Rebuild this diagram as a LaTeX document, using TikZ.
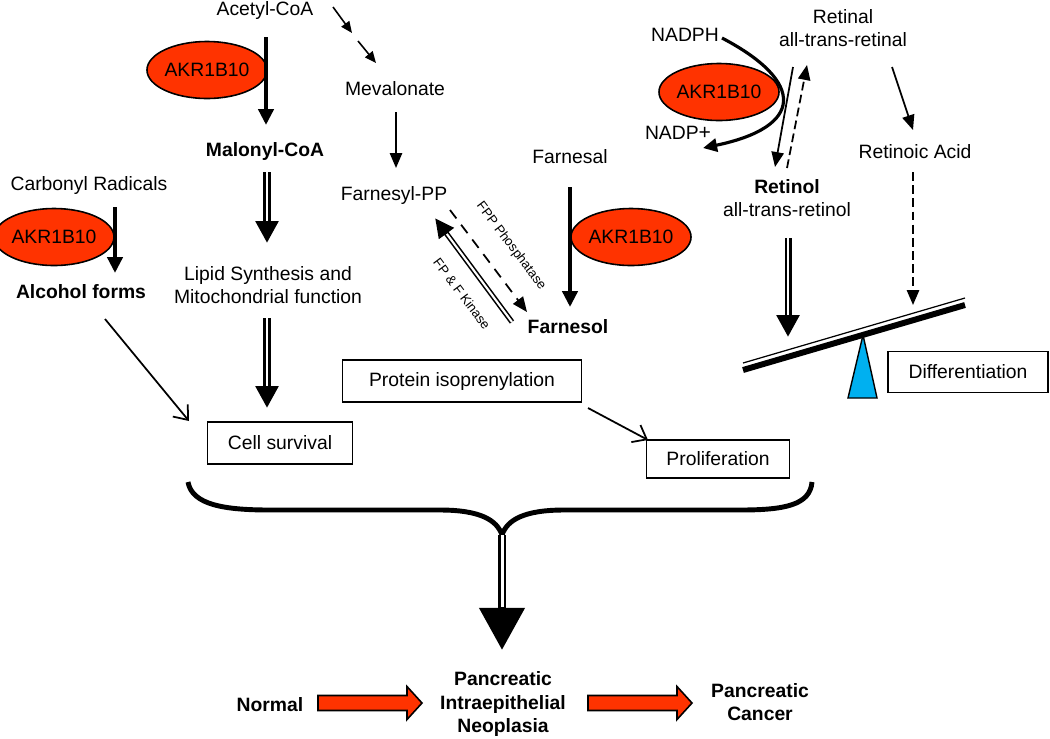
\documentclass[tikz,border=0pt]{standalone}
\usepackage{fontspec}
\setmainfont{Liberation Sans}
\usetikzlibrary{calc,arrows.meta,shapes.geometric}
\definecolor{akrred}{RGB}{255,51,0}
\definecolor{pivotblue}{RGB}{0,176,240}
\newcommand{\progarrow}[1]{%
    % #1 = tail point of the block arrow
    \draw[line width=0.9pt,fill=akrred,shift={#1}]
        (0,-7.5) -- (89,-7.5) -- (89,-16.5) -- (104,0) -- (89,16.5)
        -- (89,7.5) -- (0,7.5) -- cycle;
}

\begin{document}
\begin{tikzpicture}[x=0.02cm,y=-0.02cm,
    txt/.style={font=\fontsize{11}{13.5}\selectfont,inner sep=0pt,align=center},
    small/.style={font=\fontsize{7.5}{9}\selectfont,inner sep=0pt,rotate=-53},
    enzyme/.style={ellipse,draw,line width=0.9pt,fill=akrred,minimum width=2.1cm,
        minimum height=1.14cm,inner sep=0pt,font=\fontsize{11}{13.5}\selectfont},
    stage/.style={draw,line width=1.1pt,inner sep=0pt,font=\fontsize{11}{13.5}\selectfont},
    flow/.style={line width=1pt,-{Triangle[length=8.5pt,width=7pt]}},
    flowdash/.style={flow,dash pattern=on 5pt off 2.5pt},
    strong/.style={line width=2.6pt,-{Triangle[length=9pt,width=8.5pt]}},
    feed/.style={line width=1pt,-{Straight Barb[length=7pt,width=11pt]}},
    dbl/.style={line width=4pt,-{Triangle[length=12.5pt,width=12.5pt]},
        postaction={draw=white,line width=1.6pt,shorten >=12.8pt,arrows=-}},
    bigdbl/.style={line width=4.5pt,-{Triangle[length=24pt,width=25pt]},
        postaction={draw=white,line width=1.7pt,shorten >=24.3pt,arrows=-}},
]
\useasboundingbox (0,0) rectangle (1050,738);

% Metabolites
\node[txt] (acetyl) at (265,10) {Acetyl-CoA};
\node[txt] (meval) at (395,89) {Mevalonate};
\node[txt,font=\fontsize{11}{13.5}\selectfont\bfseries] (malonyl) at (265,151) {Malonyl-CoA};
\node[txt] (carbonyl) at (89,185) {Carbonyl Radicals};
\node[txt,font=\fontsize{11}{13.5}\selectfont\bfseries] (alcohol) at (81,292) {Alcohol forms};
\node[txt] (lipid) at (268,285) {Lipid Synthesis and\\Mitochondrial function};
\node[txt] (farnesyl) at (394,195) {Farnesyl-PP};
\node[txt] (farnesal) at (570,157) {Farnesal};
\node[txt,font=\fontsize{11}{13.5}\selectfont\bfseries] (farnesol) at (568,327) {Farnesol};
\node[txt] (nadph) at (685,35) {NADPH};
\node[txt] (nadp) at (678,133) {NADP{\large+}};
\node[txt] (retinal) at (843,28) {Retinal\\all-trans-retinal};
\node[txt] (retinol) at (787,198) {\textbf{Retinol}\\all-trans-retinol};
\node[txt] (retinoic) at (915,152) {Retinoic Acid};

% Enzymes
\node[enzyme] (akrA) at (207,70) {AKR1B10};
\node[enzyme] (akrB) at (54,237) {AKR1B10};
\node[enzyme] (akrC) at (631,237) {AKR1B10};
\node[enzyme] (akrD) at (719,92) {AKR1B10};

% Outcomes
\node[stage,minimum width=2.9cm,minimum height=0.84cm] (survival) at (280,443) {Cell survival};
\node[stage,minimum width=4.78cm,minimum height=0.84cm] (protein) at (462,381) {Protein isoprenylation};
\node[stage,minimum width=2.86cm,minimum height=0.76cm] (prolif) at (718,459) {Proliferation};
\node[stage,minimum width=3.2cm,minimum height=0.82cm] (diff) at (968,372) {Differentiation};

% Left pathways
\draw[strong] ($(acetyl)+(1,27)$) -- ($(malonyl)+(1,-26)$);
\draw[flow,line width=0.9pt,-{Triangle[length=6.5pt,width=5.5pt]}] ($(acetyl)+(68,-3)$) -- ($(acetyl)+(87,23)$);
\draw[flow,line width=0.9pt,-{Triangle[length=6.5pt,width=5.5pt]}] ($(meval)+(-37,-48)$) -- ($(meval)+(-19,-26)$);
\draw[flow] ($(meval)+(1,23)$) -- ($(farnesyl)+(2,-27)$);
\draw[dbl] ($(malonyl)+(2,21)$) -- ($(lipid)+(-1,-42)$);
\draw[dbl] ($(lipid)+(-1,33)$) -- ($(survival)+(-13,-35)$);
\draw[strong] ($(carbonyl)+(26,22)$) -- ($(alcohol)+(34,-19)$);
\draw[feed] ($(alcohol)+(24,27)$) -- ($(survival)+(-91,-22)$);

% Farnesol cycle
\node[small] (fppase) at (511,246) {FPP Phosphatase};
\node[small] (kinase) at (462,294) {FP \& F Kinase};
\draw[flow,dash pattern=on 6pt off 4.5pt] ($(farnesyl)+(56,15)$) -- ($(farnesol)+(-41,-15)$);
\draw[line width=3pt,-{Triangle[length=11pt,width=10pt]},
    postaction={draw=white,line width=1.2pt,shorten >=11.3pt,arrows=-}]
    ($(farnesol)+(-56,-5)$) -- ($(farnesyl)+(41,23)$);
\draw[strong] ($(farnesal)+(0,30)$) -- ($(farnesol)+(2,-20)$);
\draw[feed] ($(protein)+(126,27)$) -- ($(prolif)+(-70,-19)$);

% Retinoid branch
\draw[line width=1.8pt,-{Triangle[length=8pt,width=7.5pt]}]
    ($(nadph)+(37,3)$) .. controls (806,82) and (804,127) .. ($(nadp)+(25,15)$);
\draw[flow] ($(retinal)+(-50,39)$) -- ($(retinol)+(-12,-31)$);
\draw[flowdash] ($(retinol)+(0,-30)$) -- ($(retinal)+(-36,37)$);
\draw[flow] ($(retinal)+(49,39)$) -- ($(retinoic)+(-2,-22)$);
\coordinate (beamL) at (788,337);
\coordinate (beamR) at (913,305);
\draw[flowdash] ($(retinoic)+(-2,20)$) -- (beamR);
\draw[dbl] ($(retinol)+(1,40)$) -- (beamL);

% Balance
\draw[line width=3.4pt] (743,370) -- (965,305);
\draw[line width=0.7pt] (743,363) -- (965,298);
\draw[line width=0.8pt,fill=pivotblue] (863,335) -- (877,398) -- (848,398) -- cycle;

% Convergence brace
\coordinate (cusp) at (502,535);
\draw[line width=2.8pt]
    (188,482) .. controls (192,505) and (225,510) .. (270,510) -- (440,510)
    .. controls (480,510) and (497,520) .. (cusp)
    .. controls (507,520) and (524,510) .. (564,510) -- (740,510)
    .. controls (785,510) and (810,505) .. (812,482);

% Progression
\node[txt,font=\fontsize{11}{13.5}\selectfont\bfseries] (normal) at (270,705) {Normal};
\node[txt,font=\fontsize{11}{13.5}\selectfont\bfseries] (panin) at (503,704) {Pancreatic\\Intraepithelial\\Neoplasia};
\node[txt,font=\fontsize{11}{13.5}\selectfont\bfseries] (cancer) at (760,702) {Pancreatic\\Cancer};
\draw[bigdbl] (cusp) -- ($(panin)+(-1,-54)$);
\progarrow{($(normal)+(48,-2)$)}
\progarrow{($(panin)+(85,-1)$)}

\end{tikzpicture}
\end{document}
